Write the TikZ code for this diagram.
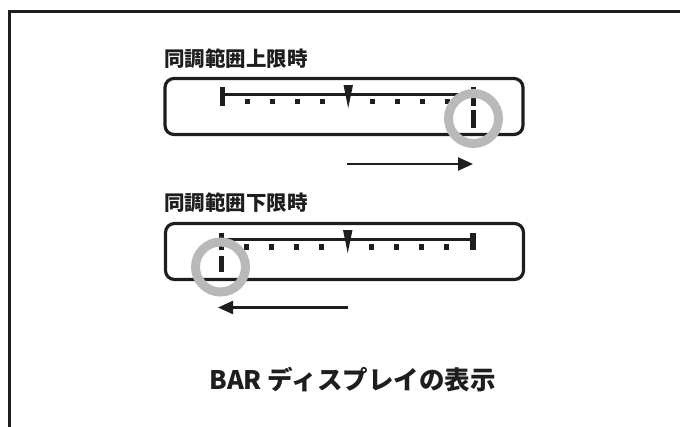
\documentclass[tikz,border=0pt]{standalone}
\usepackage{fontspec}
\newfontfamily\cjk{Noto Sans CJK JP}
\usetikzlibrary{arrows.meta}
\definecolor{ringgray}{RGB}{185,185,185}
\definecolor{ink}{RGB}{30,30,30}
\tikzset{
  dispbox/.style={draw=ink, line width=3.2pt, rounded corners=9pt, minimum width=358pt, minimum height=56pt, inner sep=0pt},
  scaleline/.style={draw=ink, line width=2.2pt},
  endtick/.style={fill=ink},
  scaledot/.style={fill=ink},
  ring/.style={draw=ringgray, line width=9pt},
  movearrow/.style={draw=ink, line width=2.2pt, -{Triangle[length=15pt,width=13pt]}},
  titletext/.style={font=\cjk\bfseries\fontsize{20.5}{22}\selectfont, anchor=west, inner sep=0pt, text=ink},
  captext/.style={font=\cjk\bfseries\fontsize{25.5}{28}\selectfont, inner sep=0pt, text=ink}
}
\begin{document}
\begin{tikzpicture}[x=1pt,y=-1pt]
\useasboundingbox (0,0) rectangle (680,426);
% frame
\draw[ink, line width=3pt] (9.5,427) -- (9.5,11.5) -- (681,11.5);

% ---------- upper ----------
\node[titletext] (t1) at (164,59) {同調範囲上限時};
\node[dispbox] (b1) at (344,106.5) {};
\draw[scaleline] (222,94.5) -- (473,94.5);
\fill[endtick] (219.5,87) rectangle (225,106);
\fill[endtick] (470.5,87) rectangle (476,106);
\foreach \i in {1,2,3,4,6,7,8,9} {
  \fill[scaledot] ({222+25.1*\i-2.5},98.5) rectangle ({222+25.1*\i+2.5},104);
}
\fill[ink] (343.5,85) -- (353,85) -- (348.2,108) -- cycle;
\fill[ink] (470.5,110) rectangle (476,128);
\draw[ring] (473.5,118.5) circle (25pt);
\coordinate (a1s) at (347,164);
\coordinate (a1e) at (473,164);
\draw[movearrow] (a1s) -- (a1e);

% ---------- lower ----------
\node[titletext] (t2) at (164,203) {同調範囲下限時};
\node[dispbox] (b2) at (344.5,251.5) {};
\draw[scaleline] (221,239.5) -- (473,239.5);
\fill[endtick] (218.5,233) rectangle (224,250);
\fill[endtick] (470,233) rectangle (475.5,250);
\foreach \i in {1,2,3,4,6,7,8,9} {
  \fill[scaledot] ({221+25.1*\i-2.5},244) rectangle ({221+25.1*\i+2.5},249.5);
}
\fill[ink] (343,230) -- (352.5,230) -- (347.7,253) -- cycle;
\fill[ink] (218.5,256) rectangle (224,272);
\draw[ring] (220.5,267) circle (25pt);
\coordinate (a2s) at (348,307.5);
\coordinate (a2e) at (218,307.5);
\draw[movearrow] (a2s) -- (a2e);

% caption
\node[captext] (cap) at (352.5,380) {BAR ディスプレイの表示};
\end{tikzpicture}
\end{document}
